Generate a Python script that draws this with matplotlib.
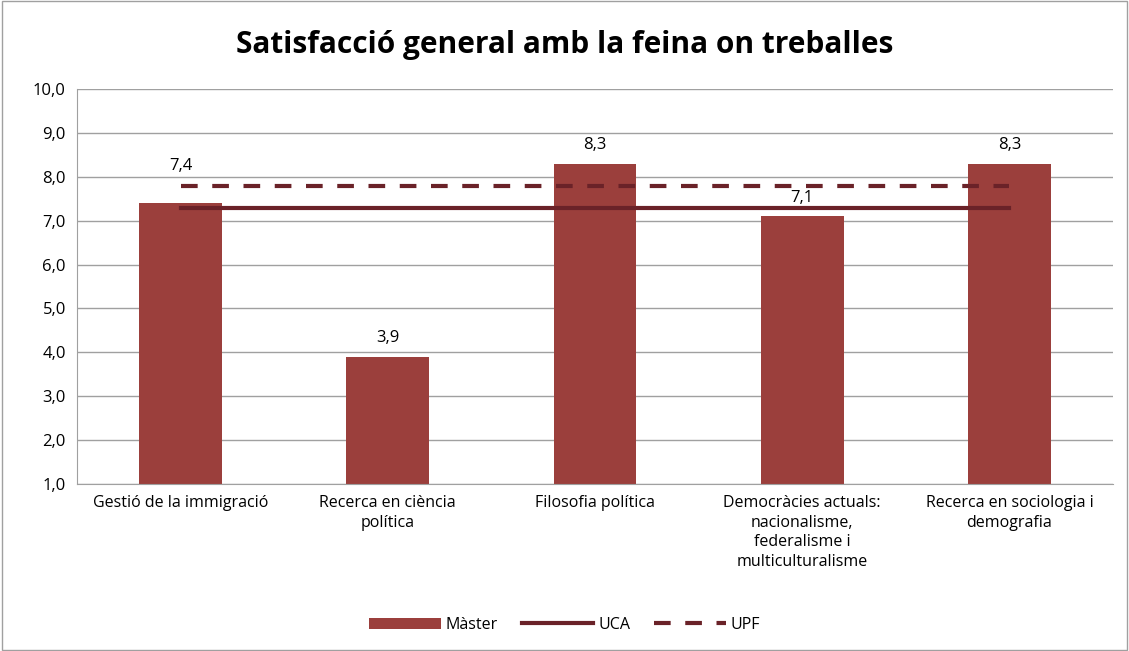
import numpy as np
import matplotlib.pyplot as plt
from matplotlib.patches import Rectangle

categories = ["Gestió de la immigració", "Recerca en ciència\npolítica", "Filosofia política",
              "Democràcies actuals:\nnacionalisme,\nfederalisme i\nmulticulturalisme",
              "Recerca en sociologia i\ndemografia"]
master = [7.4, 3.9, 8.3, 7.1, 8.3]
uca = 7.3
upf = 7.8
yticks = [1, 2, 3, 4, 5, 6, 7, 8, 9, 10]

plt.rcParams["font.family"] = ["Open Sans", "DejaVu Sans"]
bar_color = "#9b3f3c"
line_color = "#6a2228"

fig = plt.figure(figsize=(11.29, 6.51), dpi=100)
ax = fig.add_axes([77 / 1129, 1 - 484 / 651, (1113 - 77) / 1129, (484 - 89) / 651])

x = np.arange(len(categories))
b = ax.bar(x, np.array(master) - 1, bottom=1, width=0.4, color=bar_color, label="Màster", zorder=2)
l1, = ax.plot([x[0], x[-1]], [uca, uca], color=line_color, lw=3, label="UCA", zorder=3)
l2, = ax.plot([x[0], x[-1]], [upf, upf], color=line_color, lw=3, ls=(0, (4, 3.5)), label="UPF", zorder=3)

for xi, v in zip(x, master):
    y = v + 0.42
    # lift the label above the dashed line when it would sit on it
    if v < upf < v + 0.6:
        y = upf + 0.45
    ax.text(xi, y, f"{v:.1f}".replace(".", ","), ha="center", va="center", fontsize=12)

ax.set_xlim(-0.5, len(categories) - 0.5)
ax.set_ylim(1, 10)
ax.set_yticks(yticks)
ax.set_yticklabels([f"{t:.1f}".replace(".", ",") for t in yticks], fontsize=12)
ax.set_xticks(x)
ax.set_xticklabels(categories, fontsize=11.5, va="top", linespacing=1.3)
ax.tick_params(axis="both", length=0, pad=8)
ax.yaxis.grid(True, color="#a0a0a0", lw=1, zorder=0)
ax.set_axisbelow(True)
for s in ["top", "right"]:
    ax.spines[s].set_visible(False)
ax.spines["left"].set_color("#a0a0a0")
ax.spines["bottom"].set_color("#a0a0a0")

fig.text(0.5, 1 - 45 / 651, "Satisfacció general amb la feina on treballes", ha="center", va="center",
         fontsize=21.5, fontweight="bold")

fig.legend([b, l1, l2], ["Màster", "UCA", "UPF"], loc="center", bbox_to_anchor=(0.5, 1 - 625 / 651),
           ncol=3, frameon=False, fontsize=11.5, handlelength=4.5, columnspacing=1.5, handletextpad=0.3)

fig.patches.append(Rectangle((0.002, 0.002), 0.996, 0.996, transform=fig.transFigure,
                             fill=False, edgecolor="#a0a0a0", lw=1))

fig.savefig("out.png", dpi=100)
